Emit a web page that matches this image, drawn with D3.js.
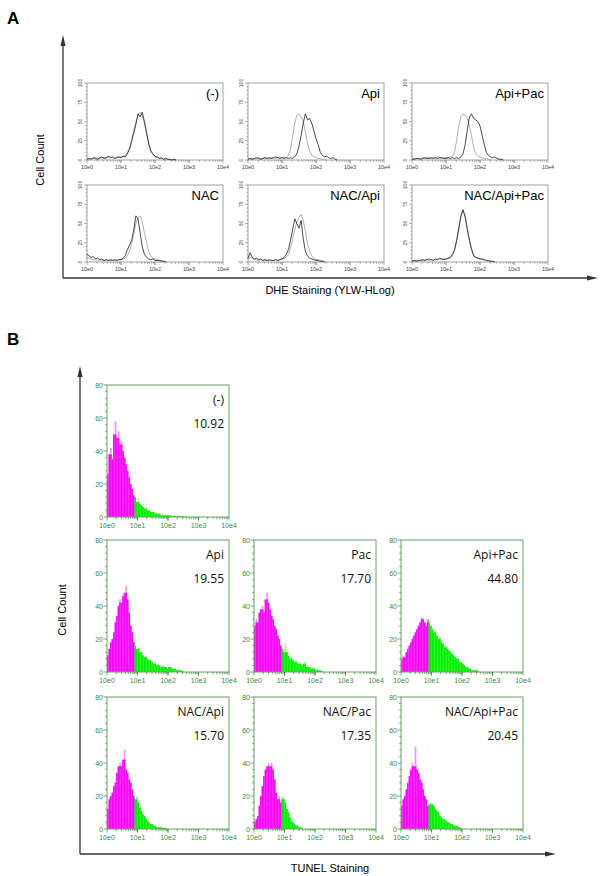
<!DOCTYPE html>
<html><head><meta charset="utf-8">
<script src="https://cdn.jsdelivr.net/npm/d3@7"></script>
<style>body{margin:0;background:#fff}</style>
</head><body>
<svg id="c" width="603" height="876"></svg>
<script>
// ---------------- DATA ----------------
// Panel A: DHE histograms, 16 channels per decade starting at 10^0
const dheLabels = ["(-)", "Api", "Api+Pac", "NAC", "NAC/Api", "NAC/Api+Pac"];
const dheMinusBlack = [1,2,1,3,2,1,3,4,2,3,5,3,4,2,3,4,3,5,4,8,14,24,35,46,60,56,62,50,36,22,12,8,5,4,2,3,1,2,1,1,0,1,0];
const dheMinusGrey  = [2,1,2,2,3,2,2,3,3,2,4,4,3,3,4,3,4,4,6,10,16,26,38,50,58,62,58,48,34,20,12,7,4,3,3,2,1,1,1,0,0,0,0];
const dheApiBlack = [1,2,1,2,3,2,1,2,3,2,3,2,3,4,3,2,3,2,3,2,3,2,4,8,18,32,48,60,52,54,48,38,28,20,10,6,4,5,3,2,3,1,0];
const dheApiGrey  = [1,1,2,1,2,3,2,2,3,2,2,3,3,2,3,4,3,4,3,6,14,30,48,58,60,56,50,36,22,12,6,4,3,2,2,1,1,0];
const dheApiPacBlack = [1,1,2,2,1,2,3,2,2,3,2,3,2,3,3,2,2,3,2,3,2,3,2,4,8,20,38,56,60,54,52,50,44,32,20,10,6,4,3,4,2,1,1,0];
const dheApiPacGrey  = [1,2,1,2,2,3,2,3,3,2,3,2,4,3,2,3,3,3,4,5,10,26,44,56,60,58,54,44,32,16,8,5,4,3,2,2,1,0];
const dheNacBlack = [10,8,6,7,4,5,3,4,2,3,2,3,2,3,2,3,3,5,8,16,22,28,42,60,56,38,20,10,6,4,3,4,2,2,2,1,1,0];
const dheNacGrey  = [6,5,4,3,3,2,3,2,2,3,2,2,3,2,3,3,3,4,5,8,14,24,36,50,58,60,52,38,26,14,8,5,4,3,2,2,1,1,0];
const dheNacApiBlack = [5,12,6,4,5,3,4,2,3,2,3,2,2,3,2,3,4,6,10,16,28,42,56,50,44,54,30,14,8,5,4,3,2,2,1,1,0];
const dheNacApiGrey  = [4,6,5,3,3,2,3,2,3,2,2,3,2,3,3,3,4,5,6,10,18,30,42,52,58,62,54,40,24,14,8,5,3,3,2,1,1,0];
const dheNacApiPacBlack = [1,2,1,2,2,3,2,3,4,3,2,4,3,5,4,3,4,5,6,10,16,28,44,60,68,58,42,28,16,8,6,5,4,4,3,2,2,1,1,0];
const dheNacApiPacGrey  = [2,1,2,2,3,2,3,3,2,3,3,2,4,3,3,4,4,4,5,8,14,26,42,58,66,62,46,30,18,10,6,5,4,3,3,2,1,1,0];
const dheYTicks = [0, 25, 50, 75, 100];

// Panel B: TUNEL histograms, 20 channels per decade starting at 10^0
const tunelLabels = ["(-)", "Api", "Pac", "Api+Pac", "NAC/Api", "NAC/Pac", "NAC/Api+Pac"];
const tunelPercents = ["10.92", "19.55", "17.70", "44.80", "15.70", "17.35", "20.45"];
const tunelMinus = [26,38,42,35,50,58,48,52,44,46,40,36,32,28,24,20,17,13,12,9,11,8,7,6,5,6,4,4,3,3,3,2,3,2,2,1,2,1,1,1,1,1,0.5,1,0.5,0,1,0.5,0,0.5,0.5,0,0.5,0];
const tunelApi = [10,14,18,20,24,30,34,40,44,42,46,48,52,44,36,28,24,18,16,14,15,12,13,10,9,10,8,7,8,6,5,6,4,5,4,3,4,3,3,2,3,3,2,2,2,1,2,1,1,0.5];
const tunelPac = [28,32,30,36,38,40,36,44,48,42,38,34,32,28,26,22,20,16,14,12,17,12,10,8,9,7,6,7,5,6,5,4,5,6,3,4,3,2,3,2,1,2,1,1,0.5];
const tunelApiPac = [8,10,9,12,14,16,18,20,22,24,26,28,30,33,32,30,28,32,30,28,26,24,25,22,20,21,18,17,15,16,14,13,12,11,10,9,8,8,6,6,5,4,3,3,2,2,1,1,1,2,0.5];
const tunelNacApi = [12,18,20,22,26,28,34,38,40,38,42,48,36,34,30,28,24,20,18,20,16,13,11,9,8,6,5,4,3,3,2,2,1,1,1,1,0.5,0.5,0.5];
const tunelNacPac = [4,6,8,14,20,26,32,36,38,40,38,40,36,30,22,18,20,16,20,18,16,12,10,7,5,4,3,2,2,1,1,0.5];
const tunelNacApiPac = [14,18,20,24,28,32,36,40,38,50,36,34,30,28,24,20,18,14,15,16,15,14,12,11,10,8,7,6,6,5,4,4,3,3,2,2,2,1,1,0.5];
const tunelYTicks = [0, 20, 40, 60, 80];
const gateDecade = 0.9;

const xTickLabels = ["10e0", "10e1", "10e2", "10e3", "10e4"];
const xTickValues = [1, 10, 100, 1000, 10000];

// ---------------- DRAW ----------------
const svg = d3.select("#c");
const AX = "#333";

svg.append("text").attr("x", 7).attr("y", 24).attr("font-family", "Liberation Sans, Arial").attr("font-weight", "bold").attr("font-size", 17).text("A");
svg.append("text").attr("x", 7).attr("y", 345).attr("font-family", "Liberation Sans, Arial").attr("font-weight", "bold").attr("font-size", 17).text("B");

function bigAxes(x0, yTop, yBot, xRight, lw) {
  const g = svg.append("g");
  g.append("line").attr("x1", x0).attr("y1", yBot).attr("x2", x0).attr("y2", yTop + 8).attr("stroke", AX).attr("stroke-width", lw);
  g.append("path").attr("d", `M${x0},${yTop} L${x0-2.5},${yTop+11} L${x0+2.5},${yTop+11} Z`).attr("fill", AX);
  g.append("line").attr("x1", x0).attr("y1", yBot).attr("x2", xRight - 8).attr("y2", yBot).attr("stroke", AX).attr("stroke-width", lw);
  g.append("path").attr("d", `M${xRight},${yBot} L${xRight-11},${yBot-2.5} L${xRight-11},${yBot+2.5} Z`).attr("fill", AX);
}
bigAxes(63, 35, 278, 598, 1.3);
bigAxes(80, 366, 854, 556, 1.3);

svg.append("text").attr("transform", "translate(44,160) rotate(-90)").attr("text-anchor", "middle")
  .attr("font-family", "Liberation Sans, Arial").attr("font-size", 11).text("Cell Count");
svg.append("text").attr("x", 330).attr("y", 294).attr("text-anchor", "middle")
  .attr("font-family", "Liberation Sans, Arial").attr("font-size", 11).text("DHE Staining (YLW-HLog)");
svg.append("text").attr("transform", "translate(66,610) rotate(-90)").attr("text-anchor", "middle")
  .attr("font-family", "Liberation Sans, Arial").attr("font-size", 11).text("Cell Count");
svg.append("text").attr("x", 330).attr("y", 872).attr("text-anchor", "middle")
  .attr("font-family", "Liberation Sans, Arial").attr("font-size", 11).text("TUNEL Staining");

// ----- Panel A -----
const dheSeries = [
  [dheMinusBlack, dheMinusGrey], [dheApiBlack, dheApiGrey], [dheApiPacBlack, dheApiPacGrey],
  [dheNacBlack, dheNacGrey], [dheNacApiBlack, dheNacApiGrey], [dheNacApiPacBlack, dheNacApiPacGrey]
];
const aCols = [87, 248, 412], aRows = [83, 185], aW = 136, aH = 77;
dheLabels.forEach((lab, k) => {
  const left = aCols[k % 3], top = aRows[Math.floor(k / 3)];
  const x = d3.scaleLog().domain([1, 10000]).range([left, left + aW]);
  const y = d3.scaleLinear().domain([0, 100]).range([top + aH, top]);
  const g = svg.append("g");
  const minors = [];
  for (let d = 0; d < 4; d++) for (let m = 1; m <= 10; m++) minors.push(m * 10 ** d);
  minors.forEach(v => {
    const major = xTickValues.includes(v);
    g.append("line").attr("x1", x(v)).attr("x2", x(v)).attr("y1", top + aH).attr("y2", top + aH + (major ? 3 : 1.8))
      .attr("stroke", "#777").attr("stroke-width", 0.6);
  });
  d3.range(0, 101, 5).forEach(v => {
    const major = dheYTicks.includes(v);
    g.append("line").attr("x1", left).attr("x2", left - (major ? 3 : 1.5)).attr("y1", y(v)).attr("y2", y(v))
      .attr("stroke", "#777").attr("stroke-width", 0.6);
  });
  g.append("rect").attr("x", left).attr("y", top).attr("width", aW).attr("height", aH)
    .attr("fill", "none").attr("stroke", "#8a8a8a").attr("stroke-width", 0.8);
  dheYTicks.forEach(t => {
    g.append("text").attr("transform", `translate(${left - 5},${y(t)}) rotate(-90)`).attr("text-anchor", "middle")
      .attr("font-family", "Liberation Sans, Arial").attr("font-size", 5).attr("fill", "#444").text(t);
  });
  xTickValues.forEach((v, i) => {
    g.append("text").attr("x", x(v)).attr("y", top + aH + 9).attr("text-anchor", "middle")
      .attr("font-family", "Liberation Sans, Arial").attr("font-size", 5.5).attr("fill", "#444").text(xTickLabels[i]);
  });
  const line = d3.line().x((v, i) => x(10 ** (i / 16))).y(v => y(v));
  const [blk, gry] = dheSeries[k];
  g.append("path").attr("d", line(gry)).attr("fill", "none").attr("stroke", "#a8a8a8").attr("stroke-width", 0.9);
  g.append("path").attr("d", line(blk)).attr("fill", "none").attr("stroke", "#111").attr("stroke-width", 0.75);
  g.append("text").attr("x", left + aW - 4).attr("y", top + 15).attr("text-anchor", "end")
    .attr("font-family", "Liberation Sans, Arial").attr("font-size", 13).attr("fill", "#000").text(lab);
});

// ----- Panel B -----
const tunelSeries = [tunelMinus, tunelApi, tunelPac, tunelApiPac, tunelNacApi, tunelNacPac, tunelNacApiPac];
const bPos = [[107, 385], [107, 540], [254, 540], [401, 540], [107, 697], [254, 697], [401, 697]];
const bW = 122, bH = 132;
const GC = "#3c8a3c";
tunelLabels.forEach((lab, k) => {
  const [left, top] = bPos[k];
  const x = d3.scaleLog().domain([1, 10000]).range([left, left + bW]);
  const y = d3.scaleLinear().domain([0, 80]).range([top + bH, top]);
  const g = svg.append("g");
  const vals = tunelSeries[k];
  vals.forEach((v, i) => {
    const d0 = i / 20, d1 = (i + 1) / 20;
    const inGate = d0 < gateDecade - 1e-9;
    const light = inGate ? "#ff8cff" : "#8cff8c";
    const solid = inGate ? "#ff00ff" : "#00f000";
    const prev = i > 0 ? vals[i - 1] : v, next = i < vals.length - 1 ? vals[i + 1] : 0;
    const base = Math.min(v, Math.max(prev, next));
    const x0 = x(10 ** d0), x1 = x(10 ** d1);
    g.append("rect").attr("x", x0).attr("width", x1 - x0 + 0.15).attr("y", y(v)).attr("height", y(0) - y(v)).attr("fill", light);
    g.append("rect").attr("x", x0).attr("width", x1 - x0 + 0.15).attr("y", y(base)).attr("height", y(0) - y(base)).attr("fill", solid);
  });
  const gi = Math.round(gateDecade * 20);
  g.append("line").attr("x1", x(10 ** gateDecade)).attr("x2", x(10 ** gateDecade)).attr("y1", y(0)).attr("y2", y(vals[gi - 1]))
    .attr("stroke", "#888").attr("stroke-width", 0.8);
  g.append("rect").attr("x", left).attr("y", top).attr("width", bW).attr("height", bH)
    .attr("fill", "none").attr("stroke", "#6f9e6a").attr("stroke-width", 1);
  const minors = [];
  for (let d = 0; d < 4; d++) for (let m = 1; m <= 10; m++) minors.push(m * 10 ** d);
  minors.forEach(v => {
    const major = xTickValues.includes(v);
    g.append("line").attr("x1", x(v)).attr("x2", x(v)).attr("y1", top + bH).attr("y2", top + bH + (major ? 3.5 : 2.2))
      .attr("stroke", GC).attr("stroke-width", 0.7);
  });
  d3.range(0, 81, 4).forEach(v => {
    const major = tunelYTicks.includes(v);
    g.append("line").attr("x1", left).attr("x2", left - (major ? 3.5 : 1.8)).attr("y1", y(v)).attr("y2", y(v))
      .attr("stroke", GC).attr("stroke-width", 0.7);
  });
  tunelYTicks.forEach(t => {
    g.append("text").attr("x", left - 4).attr("y", y(t) + 2.5).attr("text-anchor", "end")
      .attr("font-family", "Liberation Sans, Arial").attr("font-size", 7).attr("fill", GC).text(t);
  });
  xTickValues.forEach((v, i) => {
    g.append("text").attr("x", x(v)).attr("y", top + bH + 11).attr("text-anchor", "middle")
      .attr("font-family", "Liberation Sans, Arial").attr("font-size", 7).attr("fill", GC).text(xTickLabels[i]);
  });
  g.append("text").attr("x", left + bW - 5).attr("y", top + 19).attr("text-anchor", "end")
    .attr("font-family", "Open Sans, Lato, sans-serif").attr("font-size", 12).attr("fill", "#111").text(lab);
  g.append("text").attr("x", left + bW - 5).attr("y", top + 43).attr("text-anchor", "end")
    .attr("font-family", "Open Sans, Lato, sans-serif").attr("font-size", 12).attr("fill", "#111").text(tunelPercents[k]);
});
</script></body></html>
